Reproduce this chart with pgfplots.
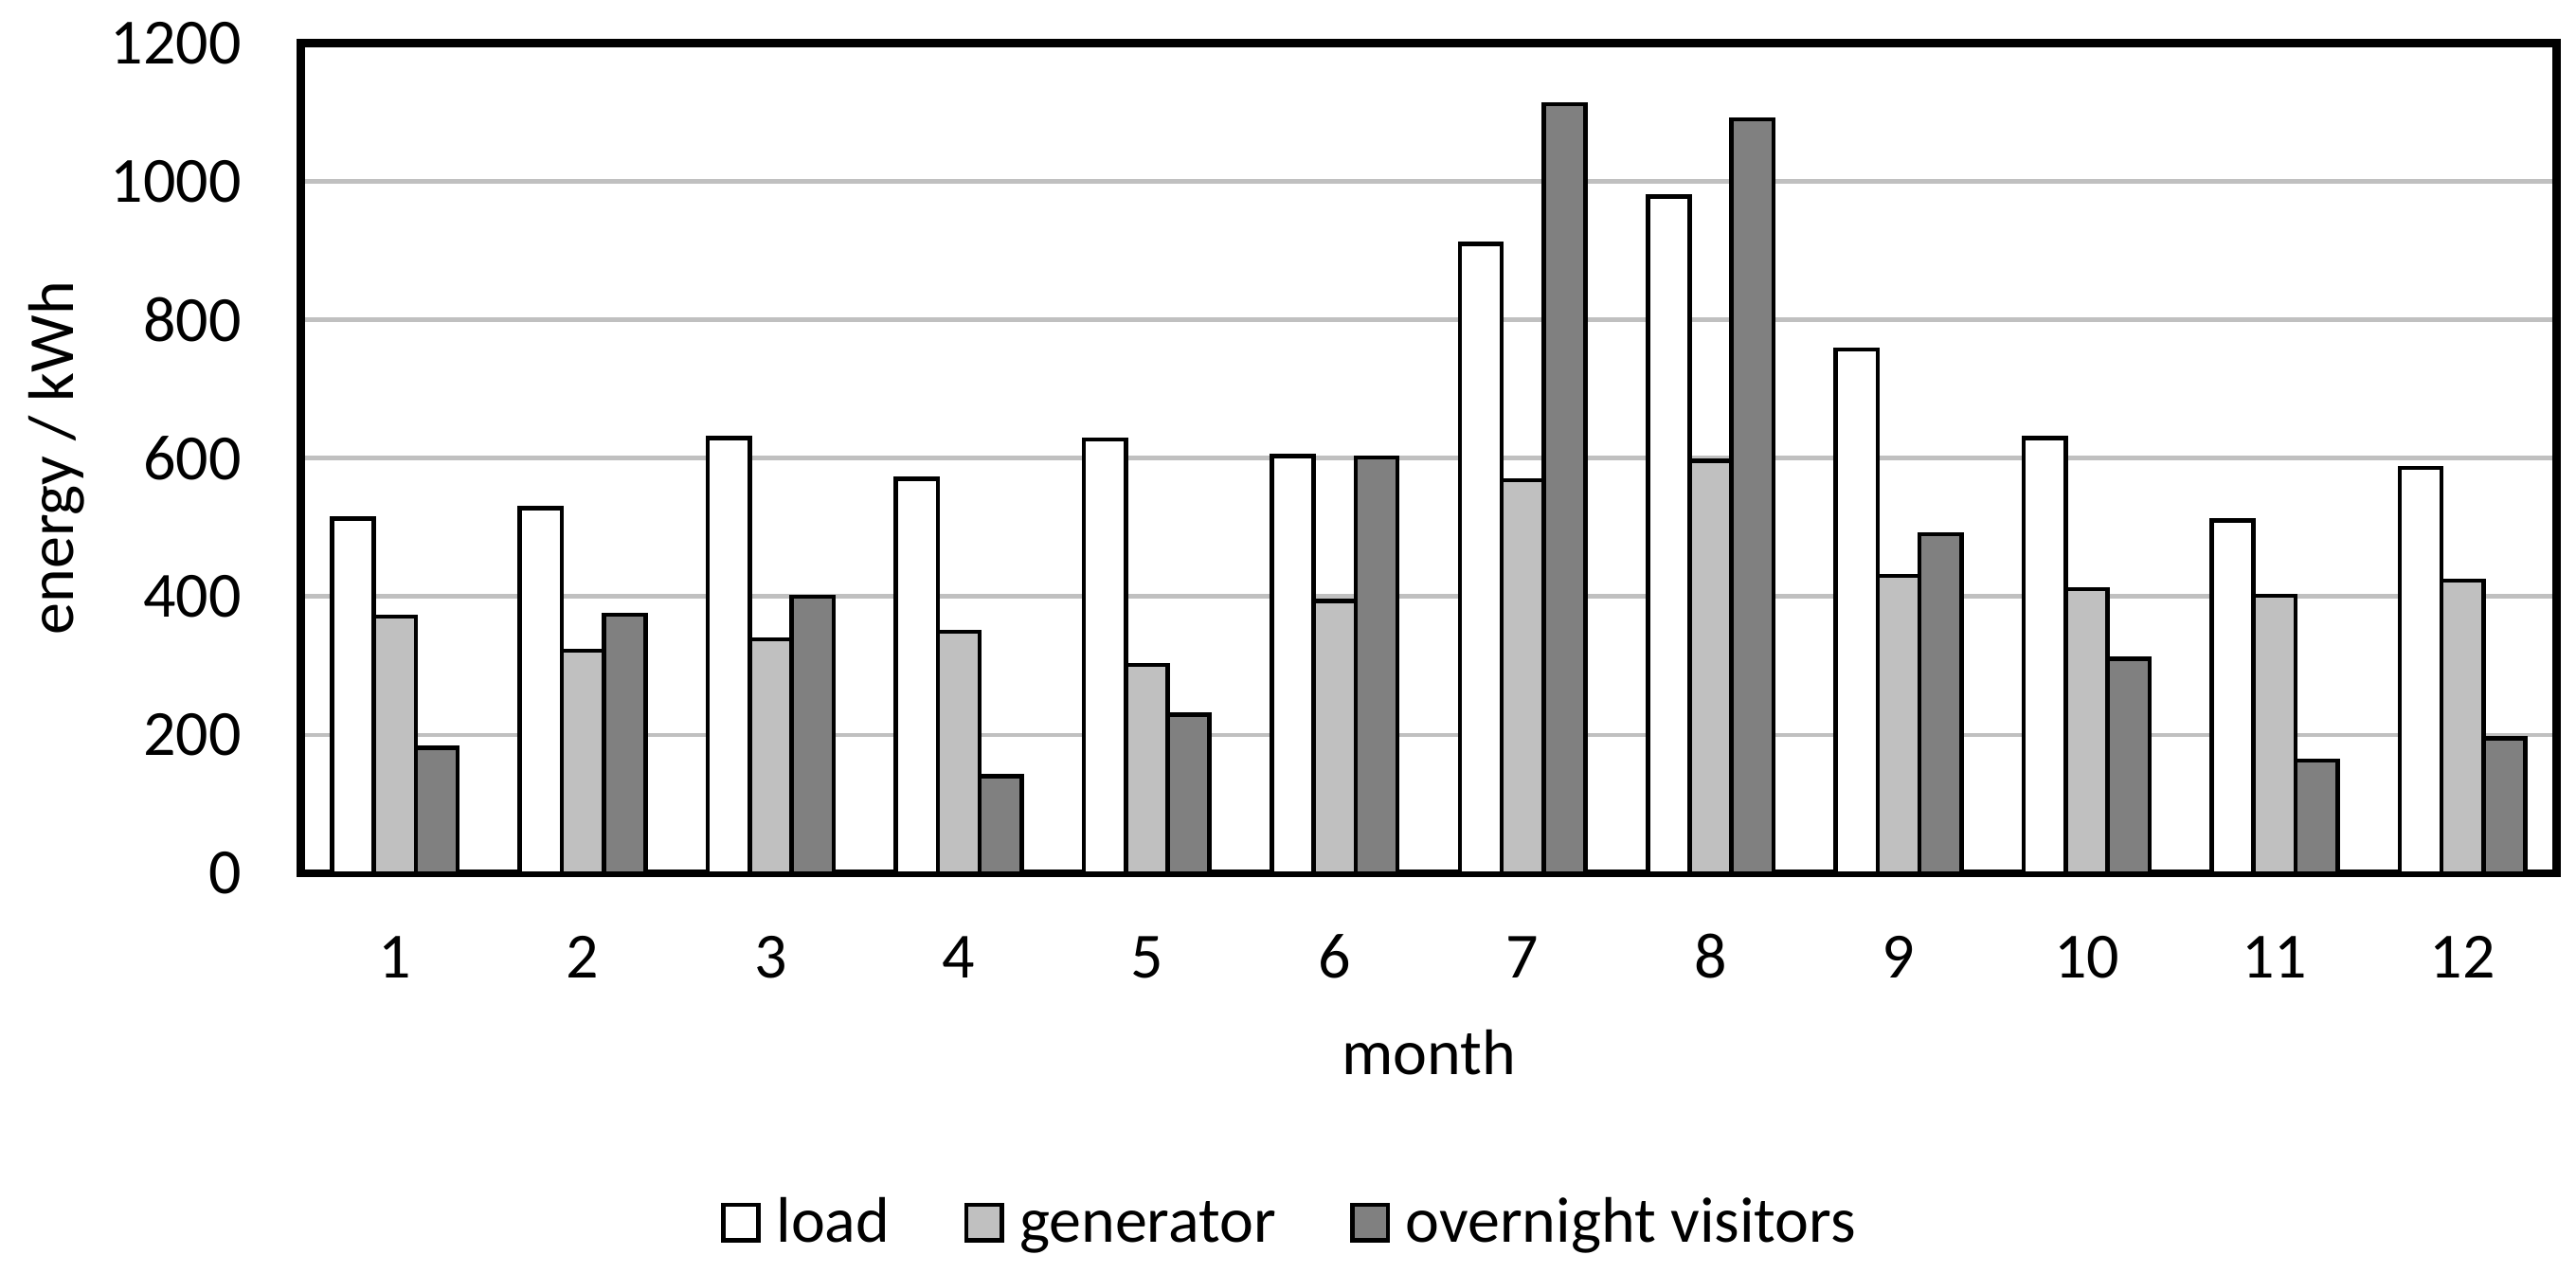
\documentclass[border=0pt]{standalone}
\usepackage{pgfplots}
\pgfplotsset{compat=1.18}
\usepackage{fontspec}
\setmainfont{Carlito}
\definecolor{genc}{RGB}{192,192,192}
\definecolor{ovc}{RGB}{128,128,128}
\definecolor{gridc}{RGB}{192,192,192}
\pgfplotsset{
  layers/barsbelow/.define layer set={axis background,axis grid,axis ticks,main,axis lines,axis tick labels,axis descriptions,axis foreground}{},
  mylegend/.style={legend image code/.code={%
      \filldraw[##1,line width=1.15pt] (0.575pt,0.575pt) rectangle (9.925pt,9.925pt);}},
}
\begin{document}
\fontsize{17}{20}\selectfont
\begin{tikzpicture}
\begin{axis}[
  set layers=barsbelow,
  at={(0pt,0pt)}, anchor=south west,
  scale only axis, width=595.25pt, height=219.1pt,
  xmin=0.5, xmax=12.5, ymin=0, ymax=1200,
  xtick={1,...,12}, ytick={0,200,...,1200},
  major tick length=0pt,
  ymajorgrids, grid style={gridc, line width=1.2pt},
  axis line style={line width=2.1pt},
  /pgf/number format/assume math mode=true,
  /pgf/number format/1000 sep={},
  xticklabel style={anchor=base, yshift=-27.75pt, inner sep=0pt},
  yticklabel style={anchor=east, xshift=-15.5pt, inner sep=0pt},
  xlabel={month}, ylabel={energy / kWh},
  xlabel style={at={(axis description cs:0.5,-0.2430)}, anchor=base},
  ylabel style={at={(axis description cs:-0.10097,0.5)}, anchor=base},
  ybar, bar width=0.223,
  legend columns=-1,
  legend style={draw=none, fill=none, inner sep=0pt, outer sep=0pt,
    at={(axis description cs:0.1863,-0.4655)}, anchor=south west,
    /tikz/every odd column/.append style={column sep=2.1pt},
    /tikz/every even column/.append style={column sep=17.6pt},
    cells={anchor=base west, inner sep=0pt}},
]
\addplot[fill=white, draw=black, line width=1.15pt, bar shift=-0.223, mylegend] coordinates {
 (1,513) (2,528) (3,629) (4,570) (5,627) (6,603) (7,910) (8,978) (9,757) (10,629) (11,510) (12,586)};
\addlegendentry{load}
\addplot[fill=genc, draw=black, line width=1.15pt, bar shift=0, mylegend] coordinates {
 (1,371) (2,322) (3,338) (4,349) (5,301) (6,394) (7,568) (8,596) (9,430) (10,411) (11,401) (12,423)};
\addlegendentry{generator}
\addplot[fill=ovc, draw=black, line width=1.15pt, bar shift=0.223, mylegend] coordinates {
 (1,181) (2,374) (3,400) (4,140) (5,229) (6,601) (7,1112) (8,1090) (9,490) (10,310) (11,163) (12,195)};
\addlegendentry{overnight visitors}
\end{axis}
\pgfresetboundingbox
\useasboundingbox (-79.375pt,-105.5pt) rectangle (600.375pt,230.5pt);
\end{tikzpicture}
\end{document}
